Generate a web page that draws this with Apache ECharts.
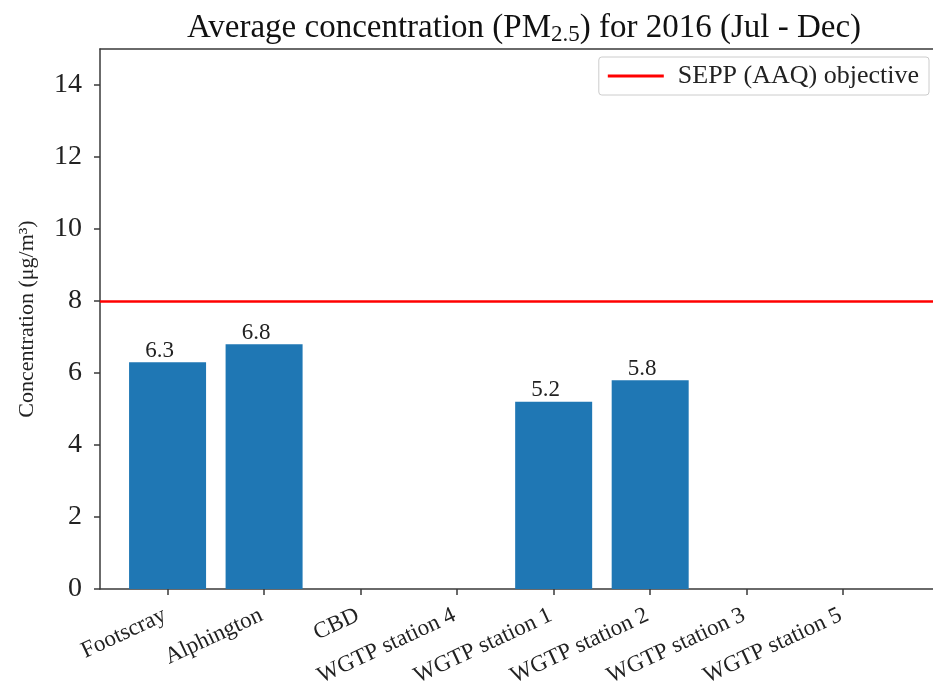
<!DOCTYPE html>
<html>
<head>
<meta charset="utf-8">
<script src="https://cdn.jsdelivr.net/npm/echarts@6/dist/echarts.min.js"></script>
<style>html,body{margin:0;padding:0;background:#fff}#c{width:933px;height:687px}</style>
</head>
<body>
<div id="c"></div>
<script>
const categories = ['Footscray', 'Alphington', 'CBD', 'WGTP station 4', 'WGTP station 1', 'WGTP station 2', 'WGTP station 3', 'WGTP station 5'];
const pmValues = [6.3, 6.8, null, null, 5.2, 5.8, null, null];
const objective = 8;
const yTicks = [0, 2, 4, 6, 8, 10, 12, 14];

const catIdx = categories.map((c, i) => i);
const barData = pmValues.map((v, i) => [i, v]);
const serif = '"Liberation Serif", "DejaVu Serif", serif';
const axisColor = '#3a3a3a';

const chart = echarts.init(document.getElementById('c'), null, {renderer: 'canvas'});
chart.setOption({
  animation: false,
  backgroundColor: '#fff',
  title: {
    text: 'Average concentration (PM{sub|2.5}) for 2016 (Jul - Dec)',
    left: 519, textAlign: 'center', top: 5,
    textStyle: {
      fontFamily: serif, fontSize: 33, fontWeight: 'normal', color: '#111',
      rich: { sub: { fontFamily: serif, fontSize: 23, verticalAlign: 'bottom', padding: [13, 0, 0, 0], color: '#111' } }
    }
  },
  legend: {
    right: 4, top: 57,
    data: [{ name: 'SEPP (AAQ) objective', icon: 'rect' }],
    itemWidth: 56, itemHeight: 3, itemGap: 10,
    padding: [6, 10, 6, 9],
    borderColor: '#ccc', borderWidth: 1, borderRadius: 3,
    textStyle: { fontFamily: serif, fontSize: 26, color: '#222', padding: [0, 0, 0, 9] }
  },
  grid: { left: 100, right: 0, top: 49, bottom: 98, containLabel: false, outerBoundsMode: 'none' },
  xAxis: [{
    type: 'value', min: -0.7, max: 7.93,
    splitLine: { show: false },
    axisLine: { show: true, onZero: false, lineStyle: { color: axisColor, width: 1.5 } },
    axisTick: { show: true, length: 6, customValues: catIdx, lineStyle: { color: axisColor, width: 1.5 } },
    axisLabel: {
      customValues: catIdx, rotate: 25, margin: 24, padding: [0, 3, 0, 0],
      fontFamily: serif, fontSize: 23, color: '#222',
      formatter: v => categories[Math.round(v)] || ''
    }
  }, {
    type: 'value', position: 'top', min: -0.7, max: 7.93,
    splitLine: { show: false }, axisTick: { show: false }, axisLabel: { show: false },
    axisLine: { show: true, onZero: false, lineStyle: { color: axisColor, width: 1.5 } }
  }],
  yAxis: {
    type: 'value', min: 0, max: 15,
    name: 'Concentration (μg/m³)', nameLocation: 'middle', nameGap: 62, nameRotate: 90,
    nameTextStyle: { fontFamily: serif, fontSize: 22, color: '#222' },
    splitLine: { show: false },
    axisLine: { show: true, onZero: false, lineStyle: { color: axisColor, width: 1.5 } },
    axisTick: { show: true, length: 6, customValues: yTicks, lineStyle: { color: axisColor, width: 1.5 } },
    axisLabel: { customValues: yTicks, margin: 18, fontFamily: serif, fontSize: 28, color: '#222' }
  },
  series: [{
    type: 'bar', name: 'PM2.5', data: barData, barWidth: 77,
    itemStyle: { color: '#1f77b4' },
    label: { show: true, position: 'top', distance: 0, offset: [-8, 0], fontFamily: serif, fontSize: 23, color: '#222',
      formatter: p => p.value[1] == null ? '' : p.value[1].toFixed(1) }
  }, {
    type: 'line', name: 'SEPP (AAQ) objective', data: [],
    itemStyle: { color: '#ff0000' }, lineStyle: { color: '#ff0000', width: 2.5 },
    markLine: {
      silent: true, symbol: ['none', 'none'], label: { show: false },
      lineStyle: { color: '#ff0000', width: 2.5, type: 'solid' },
      data: [{ yAxis: objective }]
    }
  }]
});
</script>
</body>
</html>
